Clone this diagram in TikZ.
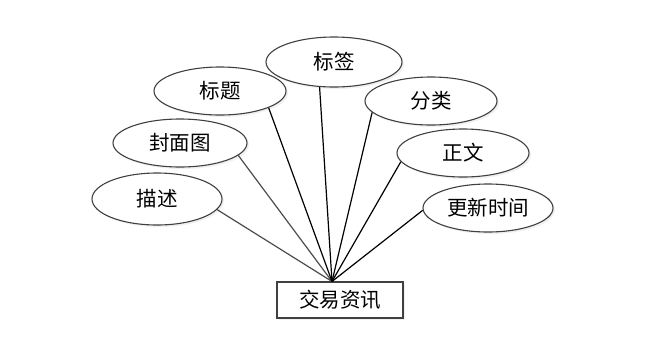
\documentclass[tikz,border=0pt]{standalone}
\usepackage{fontspec}
\newfontfamily\cjk{Noto Sans CJK SC}
\usetikzlibrary{shapes.geometric,shadows}
\begin{document}
\begin{tikzpicture}[x=1pt,y=-1pt,
  attr/.style={ellipse,draw=black!75,line width=1.1pt,fill=white,minimum width=#1,minimum height=48pt,inner sep=0pt,font=\cjk\fontsize{20.5}{21}\selectfont,
    drop shadow={opacity=0.12,shadow xshift=2pt,shadow yshift=-2pt}},
  attr/.default=132pt,
  ent/.style={rectangle,draw=black!75,line width=1.1pt,fill=white,minimum width=126pt,minimum height=36pt,inner sep=0pt,font=\cjk\fontsize{20.5}{21}\selectfont,
    drop shadow={opacity=0.12,shadow xshift=2pt,shadow yshift=-2pt}},
  link/.style={line width=1.2pt,draw=black},
  glink/.style={line width=1.2pt,draw=black!70}]
\useasboundingbox (0,0) rectangle (663,341);
\node[attr=136pt,minimum height=50pt] (biaoqian) at (334,62) {标签};
\node[attr] (biaoti) at (220,91) {标题};
\node[attr=134pt] (fengmian) at (180,143) {封面图};
\node[attr=130pt,minimum height=52pt] (miaoshu) at (157,199) {描述};
\node[attr] (fenlei) at (431,101) {分类};
\node[attr] (zhengwen) at (463,153) {正文};
\node[attr=130pt] (gengxin) at (488,208) {更新时间};
\node[ent] (jiaoyi) at (340,300) {交易资讯};
\coordinate (c) at (jiaoyi.north -| 332,0);
\draw[glink] (miaoshu.-10.7) -- (c);
\draw[glink] (fengmian.-12.2) -- (c);
\draw[link] (biaoti.-19.9) -- (c);
\draw[link] (biaoqian.240.5) -- (c);
\draw[link] (fenlei.191.7) -- (c);
\draw[link] (zhengwen.188.3) -- (c);
\draw[link] (gengxin.182.7) -- (c);
\end{tikzpicture}
\end{document}
